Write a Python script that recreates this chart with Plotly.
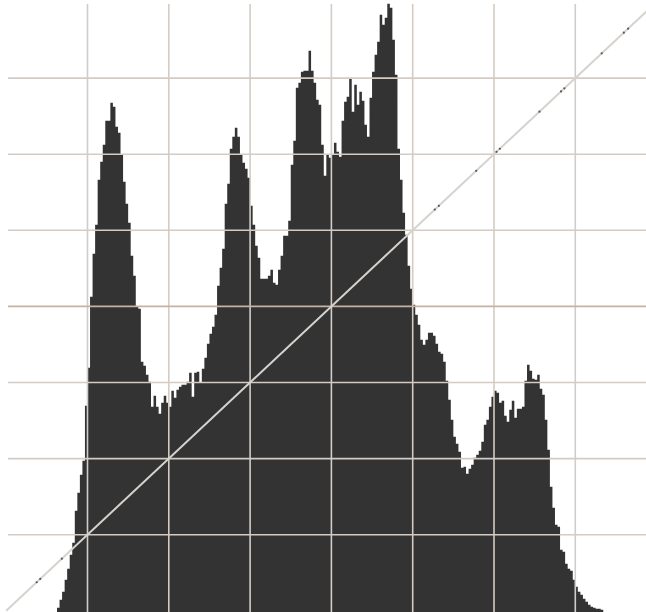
import plotly.graph_objects as go

# Tonal histogram: pixel counts per input level (levels 0-255, zero outside the listed span)
first_level = 20
counts = [
    3, 11, 19, 31, 42, 56, 68, 100, 118, 136,
    150, 205, 243, 314, 357, 386, 431, 449, 466, 490,
    490, 508, 504, 484, 478, 456, 429, 407, 388, 355,
    335, 304, 302, 249, 245, 236, 229, 204, 215, 204,
    197, 208, 215, 208, 204, 220, 213, 221, 224, 226,
    226, 229, 238, 214, 238, 239, 228, 242, 253, 267,
    277, 284, 296, 325, 343, 362, 407, 427, 462, 474,
    483, 474, 456, 448, 442, 433, 405, 386, 365, 353,
    332, 332, 332, 335, 341, 328, 326, 341, 355, 375,
    375, 390, 446, 470, 523, 528, 539, 540, 540, 560,
    540, 528, 511, 506, 466, 435, 456, 453, 456, 468,
    459, 454, 490, 509, 514, 532, 499, 526, 506, 519,
    510, 486, 474, 513, 539, 556, 569, 596, 586, 593,
    607, 603, 571, 536, 462, 431, 398, 376, 345, 322,
    306, 296, 286, 271, 266, 271, 278, 278, 275, 267,
    259, 257, 249, 230, 211, 191, 174, 167, 159, 143,
    144, 137, 142, 146, 153, 156, 160, 169, 186, 191,
    204, 214, 220, 218, 208, 210, 195, 189, 201, 210,
    193, 202, 202, 204, 230, 246, 240, 232, 231, 236,
    222, 216, 191, 161, 124, 103, 86, 84, 61, 59,
    47, 42, 40, 31, 24, 19, 16, 12, 9, 6,
    4, 3, 2, 2, 1,
]

# Identity curve with its sample points (input levels)
curve_in = [0, 256]
curve_out = [0, 256]
curve_points = [12, 13.4, 21.9, 168.7, 170.3, 185, 193, 194.3, 209.9,
                218.4, 219.7, 234.4, 243.1, 244.8]

n_levels = 256
full_scale = 608.8          # count value at the top of the graph
divisions = 8

# step outline of the histogram, closed slightly below zero so it meets the edge
hist_x, hist_y = [], []
for k, c in enumerate(counts):
    lv = first_level + k
    hist_x += [lv, lv + 1]
    hist_y += [c, c]
base = -2
hist_x = [first_level] + hist_x + [first_level + len(counts), first_level]
hist_y = [base] + hist_y + [base, base]

fig = go.Figure()
fig.add_trace(go.Scatter(
    x=hist_x, y=hist_y, mode="lines", fill="toself",
    fillcolor="#333333", line=dict(width=0), hoverinfo="skip",
))

# grid
grid_col = "#d3ccc6"
step_x = n_levels / divisions
step_y = full_scale / divisions
for k in range(1, divisions):
    xv = k * step_x
    fig.add_trace(go.Scatter(
        x=[xv, xv], y=[base, full_scale - 2], mode="lines",
        line=dict(color=grid_col, width=1.6), hoverinfo="skip",
    ))
for k in range(1, divisions):
    yv = k * step_y
    col = "#c4b3a4" if k == divisions // 2 else grid_col
    fig.add_trace(go.Scatter(
        x=[0.7, n_levels], y=[yv, yv], mode="lines",
        line=dict(color=col, width=1.6), hoverinfo="skip",
    ))

# curve
scale = full_scale / n_levels
fig.add_trace(go.Scatter(
    x=curve_in, y=[v * scale for v in curve_out], mode="lines",
    line=dict(color="#d6d2ce", width=2), hoverinfo="skip",
))
fig.add_trace(go.Scatter(
    x=curve_points, y=[v * scale for v in curve_points], mode="markers",
    marker=dict(color="#555555", size=2.2), hoverinfo="skip",
))

fig.update_layout(
    width=646, height=612,
    margin=dict(l=0, r=0, t=0, b=0),
    paper_bgcolor="#ffffff", plot_bgcolor="#ffffff",
    showlegend=False,
    xaxis=dict(range=[-2.44, 251.83], visible=False, fixedrange=True),
    yaxis=dict(range=[-1.2, 610.8], visible=False, fixedrange=True),
)

fig.write_html("out.html")
